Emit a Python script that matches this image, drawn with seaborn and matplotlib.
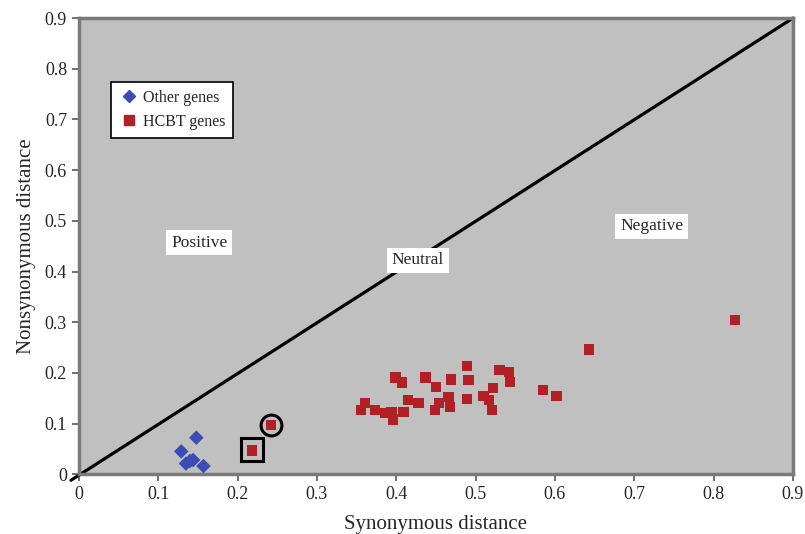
import numpy as np
import pandas as pd
import matplotlib
matplotlib.use("Agg")
import matplotlib.pyplot as plt
from matplotlib.patches import Rectangle
import seaborn as sns

# Other genes (blue diamonds)
other_x = [0.148, 0.129, 0.135, 0.140, 0.144, 0.157]
other_y = [0.072, 0.045, 0.021, 0.026, 0.028, 0.016]

# HCBT genes (red squares)
hcbt_x = [0.399, 0.407, 0.437, 0.450, 0.469, 0.361, 0.356, 0.373, 0.386, 0.394,
          0.396, 0.409, 0.415, 0.428, 0.449, 0.454, 0.466, 0.468, 0.489, 0.491,
          0.489, 0.530, 0.542, 0.543, 0.522, 0.510, 0.517, 0.521, 0.585, 0.602,
          0.643, 0.827, 0.218, 0.242]
hcbt_y = [0.191, 0.181, 0.191, 0.172, 0.187, 0.140, 0.126, 0.126, 0.121, 0.123,
          0.108, 0.123, 0.147, 0.141, 0.126, 0.141, 0.153, 0.133, 0.214, 0.186,
          0.149, 0.205, 0.201, 0.182, 0.170, 0.155, 0.146, 0.126, 0.166, 0.155,
          0.246, 0.304, 0.047, 0.097]

# highlighted genes
boxed_pt = (0.218, 0.047)
circled_pt = (0.242, 0.097)

region_labels = ["Positive", "Neutral", "Negative"]
region_pos = [(0.152, 0.457), (0.427, 0.422), (0.722, 0.489)]

ticks = [0, 0.1, 0.2, 0.3, 0.4, 0.5, 0.6, 0.7, 0.8, 0.9]

df = pd.DataFrame({
    "syn": other_x + hcbt_x,
    "nonsyn": other_y + hcbt_y,
    "group": ["Other genes"] * len(other_x) + ["HCBT genes"] * len(hcbt_x),
})

sns.set_style("ticks")
plt.rcParams["font.family"] = ["Liberation Serif", "DejaVu Serif"]

fig = plt.figure(figsize=(8.05, 5.34), dpi=100)
ax = fig.add_axes([0.098, 0.112, 0.887, 0.854])
ax.set_facecolor("#C0C0C0")

# neutral line
ax.plot([-0.01, 0.9], [-0.012, 0.9], color="black", lw=2.3, clip_on=False, zorder=2)

sns.scatterplot(data=df, x="syn", y="nonsyn", hue="group", style="group",
                palette={"Other genes": "#3B4DB5", "HCBT genes": "#B21F24"},
                markers={"Other genes": "D", "HCBT genes": "s"},
                s=55, edgecolor="none", ax=ax, zorder=3, legend=False)

# box and circle around highlighted genes
ax.add_patch(Rectangle((boxed_pt[0] - 0.0135, boxed_pt[1] - 0.0215), 0.027, 0.045,
                       fill=False, ec="black", lw=2.2, zorder=4))
ax.plot(circled_pt[0], circled_pt[1], marker="o", ms=15, mfc="none", mec="black",
        mew=2.2, zorder=4)

for lab, (x, y) in zip(region_labels, region_pos):
    ax.text(x, y, lab, ha="center", va="center", fontsize=12.5,
            bbox=dict(facecolor="white", edgecolor="none", pad=3.5))

ax.set_xlim(0, 0.9)
ax.set_ylim(0, 0.9)
ax.set_xticks(ticks)
ax.set_yticks(ticks)
ax.set_xticklabels([f"{t:g}" for t in ticks])
ax.set_yticklabels([f"{t:g}" for t in ticks])
ax.tick_params(labelsize=13, length=5, width=1.2, color="#555555")
ax.set_xlabel("Synonymous distance", fontsize=15, labelpad=9)
ax.set_ylabel("Nonsynonymous distance", fontsize=15, labelpad=6)

for sp in ax.spines.values():
    sp.set_visible(True)
    sp.set_color("#7A7A7A")
    sp.set_linewidth(2.5)

# legend
handles = [
    plt.Line2D([], [], marker="D", ls="none", color="#3B4DB5", ms=6),
    plt.Line2D([], [], marker="s", ls="none", color="#B21F24", ms=6.5),
]
leg = ax.legend(handles, ["Other genes", "HCBT genes"], loc="upper left",
                bbox_to_anchor=(0.045, 0.86), borderaxespad=0, fontsize=11.5,
                frameon=True, fancybox=False, handletextpad=0.3, borderpad=0.5,
                labelspacing=0.5, handlelength=1.2)
leg.get_frame().set_edgecolor("black")
leg.get_frame().set_linewidth(1.2)
leg.get_frame().set_facecolor("white")
leg.get_frame().set_alpha(1)

fig.savefig("out.png", dpi=100)
